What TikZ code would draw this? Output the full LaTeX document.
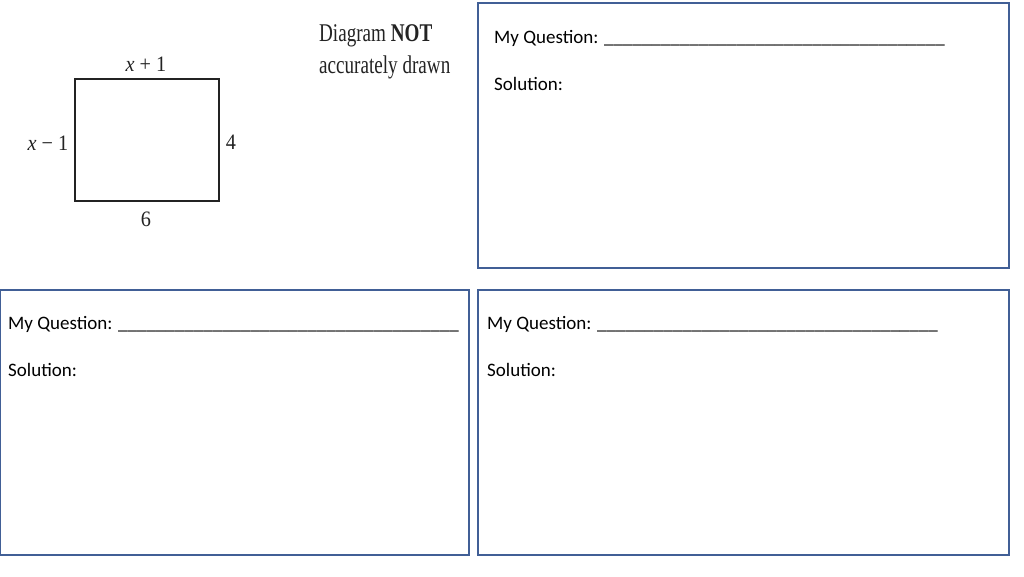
\documentclass[tikz,border=0pt]{standalone}
\usepackage{fontspec}
\setmainfont{Carlito}
\newfontfamily\timesf{Liberation Serif}
\definecolor{boxblue}{RGB}{65,95,150}
\definecolor{ink}{RGB}{35,35,35}
\newcommand\sixu{\_\_\_\_\_\_}
\newcommand\myblank{\sixu\sixu\sixu\sixu\sixu\sixu}
\begin{document}
\begin{tikzpicture}[x=1pt,y=-1pt,
  panel/.style={draw=boxblue,line width=2.4pt},
  qtext/.style={anchor=west,inner sep=0pt,font=\fontsize{19}{22}\selectfont,text=black},
  dlabel/.style={inner sep=0pt,font=\timesf\fontsize{22}{24}\selectfont,xscale=0.92,text=ink},
  note/.style={inner sep=0pt,anchor=west,font=\timesf\fontsize{25.5}{28}\selectfont,xscale=0.75,text=ink,align=left}]
\useasboundingbox (0,0) rectangle (1024,576);
\fill[white] (0,0) rectangle (1024,576);
% left diagram
\draw[ink,line width=1.3pt] (75,79) rectangle (219,201);
\node[dlabel] (top) at (146,64) {\textit{x} + 1};
\node[dlabel] (left) at (48,143) {\textit{x} − 1};
\node[dlabel] (right) at (231,142) {4};
\node[dlabel] (bottom) at (146,219) {6};
\node[note] (n1) at (319,35.5) {Diagram \textbf{NOT}};
\node[note] (n2) at (319,67) {accurately drawn};
% panels
\draw[panel] (478,3) rectangle (1009,268);
\draw[panel] (0,290) rectangle (469,555);
\draw[panel] (478,290) rectangle (1009,555);
\node[qtext] (q1) at (494,38) {My Question: \myblank};
\node[qtext] (s1) at (494,84) {Solution:};
\node[qtext] (q2) at (8,324) {My Question: \myblank};
\node[qtext] (s2) at (8,370) {Solution:};
\node[qtext] (q3) at (487,324) {My Question: \myblank};
\node[qtext] (s3) at (487,370) {Solution:};
\end{tikzpicture}
\end{document}
